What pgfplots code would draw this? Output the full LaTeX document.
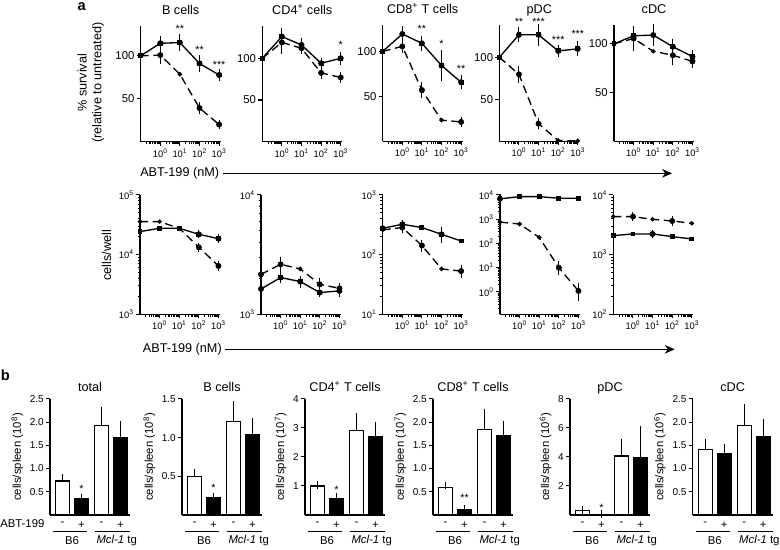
\documentclass[border=0pt]{standalone}
\usepackage{fontspec}
\setmainfont{Liberation Sans}
\usepackage{pgfplots}
\pgfplotsset{compat=1.18}
\usetikzlibrary{arrows.meta}

\newcommand\fsz[1]{\fontsize{#1}{#1}\selectfont}
\newcommand\sx[1]{10\textsuperscript{#1}}
\tikzset{st/.style={font=\fsz{8}, inner sep=0pt}}

\pgfplotsset{
  /pgf/number format/assume math mode=true,
  every axis title/.style={at={(0.5,1)}, anchor=base, font=\fsz{9.5}},
  rkbase/.style={scale only axis, anchor=south west, clip=false,
    axis lines=left, axis line style={line width=1pt,-},
    tick align=outside, tick style={black,line width=0.8pt},
    major tick length=3pt, minor tick length=1.7pt,
    yticklabel style={font=\fsz{8.5}, inner sep=1.5pt},
    xticklabel style={font=\fsz{7}, inner sep=2pt}},
  rklogx/.style={xmin=0.1, xmax=1200, xtick={1,10,100,1000},
    xticklabels={\sx{0},\sx{1},\sx{2},\sx{3}},
    minor xtick={0.2,0.3,0.4,0.5,0.6,0.7,0.8,0.9,2,3,4,5,6,7,8,9,20,30,40,50,60,70,80,90,200,300,400,500,600,700,800,900}},
  rksurv/.style={rklogx, rkbase, width=60pt, height=87pt, ymin=0, ytick={50,100}, title style={yshift=8.6pt}},
  rkcw/.style={rklogx, rkbase, width=60pt, height=89.5pt, yticklabel style={font=\fsz{7}}},
  rkbars/.style={rkbase, width=60pt, height=87pt, xmin=0.34, xmax=4.55, ymin=0,
    xtick={1,2,3.05,4.05}, xticklabels={-,+,-,+}, xticklabel style={font=\fsz{8.5}},
    xtick style={draw=none}, ylabel style={font=\fsz{8.5}}, title style={yshift=5.5pt},
    yticklabel style={font=\fsz{7.5}}},
  rkdec/.style={yticklabel style={/pgf/number format/fixed, /pgf/number format/fixed zerofill, /pgf/number format/precision=1}},
  rksol/.style={black, line width=1pt, mark=square*, mark size=1.3pt},
  rkdsh/.style={black, line width=1pt, dash pattern=on 6pt off 3.5pt, mark=*, mark size=1.15pt, mark options={solid}},
  rkeb/.style={only marks, mark=none, forget plot,
    error bars/y dir=both, error bars/y explicit,
    error bars/error bar style={black,solid,line width=0.8pt},
    error bars/error mark options={black,solid,line width=0.8pt,mark size=2.4pt}},
  rkbar/.style={ybar, bar width=0.74, bar shift=0pt, draw=black, line width=0.9pt,
    error bars/y dir=plus, error bars/y explicit,
    error bars/error bar style={black,line width=0.9pt},
    error bars/error mark options={black,line width=0.9pt,mark size=2.8pt}},
}

\newcommand\grp{%
  \draw[line width=0.9pt] ([yshift=-12.5pt]axis cs:0.5,0) -- ([yshift=-12.5pt]axis cs:2.3,0);
  \draw[line width=0.9pt] ([yshift=-12.5pt]axis cs:2.7,0) -- ([yshift=-12.5pt]axis cs:4.55,0);
  \node[font=\fsz{8.5}] at ([yshift=-19pt]axis cs:1.5,0) {B6};
  \node[font=\fsz{8.5}] at ([yshift=-19pt]axis cs:3.85,0) {\textit{Mcl-1} tg};}

\begin{document}
\begin{tikzpicture}
\path[use as bounding box] (0,0) rectangle (585pt,-411.75pt);

% ---------- panel a, top row: % survival ----------
\node[anchor=north west, inner sep=0pt, font=\bfseries\fsz{11}] at (58pt,-1.8pt) {a};
\node[rotate=90, align=center, font=\fontsize{9.5}{11}\selectfont] at (68pt,-62pt) {\% survival\\(relative to untreated)};

\begin{axis}[xmode=log, rksurv, at={(105.5pt,-106.3pt)}, ymax=135, title={B cells}]
\addplot[rksol] coordinates {(0.1,100) (1,114.6) (10,115.4) (100,91) (1000,77.7)};
\addplot[rkeb] coordinates {(1,114.6) +- (0,5) (10,115.4) +- (0,6) (100,91) +- (0,6) (1000,77.7) +- (0,3)};
\addplot[rkdsh] coordinates {(0.1,100) (1,100.8) (10,78.5) (100,39.2) (1000,20)};
\addplot[rkeb] coordinates {(1,100.8) +- (0,7) (100,39.2) +- (0,3) (1000,20) +- (0,1)};
\node[st] at (axis cs:10,131) {**};
\node[st] at (axis cs:100,107) {**};
\node[st] at (axis cs:1000,90) {***};
\end{axis}

\begin{axis}[xmode=log, rksurv, at={(196.7pt,-106.3pt)}, ymax=139, title={CD4\textsuperscript{+} cells}]
\addplot[rksol] coordinates {(0.1,100) (1,126) (10,116) (100,94) (1000,100)};
\addplot[rkeb] coordinates {(1,126) +- (0,6) (10,116) +- (0,5) (100,94) +- (0,2) (1000,100) +- (0,4)};
\addplot[rkdsh] coordinates {(0.1,100) (1,119) (10,112) (100,82.5) (1000,77)};
\addplot[rkeb] coordinates {(1,119) +- (0,10) (10,112) +- (0,3) (100,82.5) +- (0,4) (1000,77) +- (0,3)};
\node[st] at (axis cs:1000,116) {*};
\end{axis}

\begin{axis}[xmode=log, rksurv, at={(287pt,-106pt)}, ymax=129, title={CD8\textsuperscript{+} T cells}]
\addplot[rksol] coordinates {(0.1,100) (1,119.4) (10,109) (100,84.3) (1000,65.7)};
\addplot[rkeb] coordinates {(1,119.4) +- (0,5) (10,109) +- (0,5) (100,84.3) +- (0,14) (1000,65.7) +- (0,4)};
\addplot[rkdsh] coordinates {(0.1,100) (1,105.6) (10,57) (100,23.5) (1000,21.6)};
\addplot[rkeb] coordinates {(1,105.6) +- (0,4) (10,57) +- (0,5) (1000,21.6) +- (0,2)};
\node[st] at (axis cs:10,125) {**};
\node[st] at (axis cs:100,108) {*};
\node[st] at (axis cs:1000,81) {**};
\end{axis}

\begin{axis}[xmode=log, rksurv, at={(374.5pt,-106pt)}, ymax=138, title={pDC}]
\addplot[rksol] coordinates {(0.1,100) (1,126.7) (10,126.7) (100,107.6) (1000,110)};
\addplot[rkeb] coordinates {(1,126.7) +- (0,5) (10,126.7) +- (0,9) (100,107.6) +- (0,3) (1000,110) +- (0,5)};
\addplot[rkdsh] coordinates {(0.1,100) (1,79.7) (10,21) (100,1) (1000,0.5)};
\addplot[rkeb] coordinates {(1,79.7) +- (0,6) (10,21) +- (0,3)};
\node[st] at (axis cs:1,142) {**};
\node[st] at (axis cs:10,142) {***};
\node[st] at (axis cs:100,121) {***};
\node[st] at (axis cs:1000,128) {***};
\end{axis}

\begin{axis}[xmode=log, rksurv, at={(460.5pt,-106pt)}, ymax=119, title={cDC}]
\addplot[rksol] coordinates {(0.1,100) (1,108.3) (10,109) (100,97) (1000,87)};
\addplot[rkeb] coordinates {(1,108.3) +- (0,4) (10,109) +- (0,8) (100,97) +- (0,5) (1000,87) +- (0,3)};
\addplot[rkdsh] coordinates {(0.1,100) (1,105.5) (10,92.4) (100,88.3) (1000,82)};
\addplot[rkeb] coordinates {(1,105.5) +- (0,10) (100,88.3) +- (0,7) (1000,82) +- (0,4)};
\end{axis}

\node[anchor=west, inner sep=0pt, font=\fsz{9.5}] at (105pt,-130pt) {ABT-199 (nM)};
\draw[line width=1pt, -{Stealth[length=7.5pt, width=6.5pt]}] (167pt,-130pt) -- (504pt,-130pt);

% ---------- panel a, bottom row: cells/well ----------
\node[rotate=90, font=\fsz{9.5}] at (80pt,-191.5pt) {cells/well};

\begin{axis}[xmode=log, ymode=log, rkcw, at={(105pt,-235.7pt)}, ymin=1000, ymax=100000,
  ytick={1000,10000,100000}, yticklabels={\sx{3},\sx{4},\sx{5}},
  minor ytick={2000,3000,4000,5000,6000,7000,8000,9000,20000,30000,40000,50000,60000,70000,80000,90000}]
\addplot[rksol] coordinates {(0.1,24300) (1,27600) (10,27600) (100,21900) (1000,18500)};
\addplot[rkeb] coordinates {(100,21900) +- (0,600) (1000,18500) +- (0,900)};
\addplot[rkdsh] coordinates {(0.1,35700) (1,35700) (10,27600) (100,13300) (1000,6460)};
\addplot[rkeb] coordinates {(100,13300) +- (0,700) (1000,6460) +- (0,400)};
\end{axis}

\begin{axis}[xmode=log, ymode=log, rkcw, at={(195.75pt,-235.7pt)}, ymin=1000, ymax=10000,
  ytick={1000,10000}, yticklabels={\sx{3},\sx{4}},
  minor ytick={2000,3000,4000,5000,6000,7000,8000,9000}]
\addplot[rksol] coordinates {(0.1,1630) (1,2030) (10,1880) (100,1520) (1000,1570)};
\addplot[rkeb] coordinates {(0.1,1630) +- (0,100) (1,2030) +- (0,100) (10,1880) +- (0,100) (100,1520) +- (0,40) (1000,1570) +- (0,80)};
\addplot[rkdsh] coordinates {(0.1,2160) (1,2620) (10,2400) (100,1780) (1000,1650)};
\addplot[rkeb] coordinates {(0.1,2160) +- (0,150) (1,2620) +- (0,200) (100,1780) +- (0,120) (1000,1650) +- (0,70)};
\end{axis}

\begin{axis}[xmode=log, ymode=log, rkcw, at={(287pt,-235.7pt)}, ymin=10, ymax=1000,
  ytick={10,100,1000}, yticklabels={\sx{1},\sx{2},\sx{3}},
  minor ytick={20,30,40,50,60,70,80,90,200,300,400,500,600,700,800,900}]
\addplot[rksol] coordinates {(0.1,276) (1,322) (10,284) (100,219) (1000,169)};
\addplot[rkeb] coordinates {(0.1,276) +- (0,25) (1,322) +- (0,20) (100,219) +- (0,40)};
\addplot[rkdsh] coordinates {(0.1,259) (1,284) (10,142) (100,57.5) (1000,53)};
\addplot[rkeb] coordinates {(1,284) +- (0,25) (10,142) +- (0,15) (1000,53) +- (0,7)};
\end{axis}

\begin{axis}[xmode=log, ymode=log, rkcw, at={(375pt,-235.7pt)}, ymin=0.12, ymax=10000,
  ytick={1,10,100,1000,10000}, yticklabels={\sx{0},\sx{1},\sx{2},\sx{3},\sx{4}},
  minor ytick={0.2,0.3,0.4,0.5,0.6,0.7,0.8,0.9,2,3,4,5,6,7,8,9,20,30,40,50,60,70,80,90,200,300,400,500,600,700,800,900,2000,3000,4000,5000,6000,7000,8000,9000}]
\addplot[rksol] coordinates {(0.1,6900) (1,8500) (10,8500) (100,7300) (1000,7300)};
\addplot[rkeb] coordinates {(0.1,6900) +- (0,1000)};
\addplot[rkdsh] coordinates {(0.1,760) (1,630) (10,178) (100,10) (1000,1.1)};
\addplot[rkeb] coordinates {(100,10) +- (0,3.5) (1000,1.1) +- (0,0.55)};
\end{axis}

\begin{axis}[xmode=log, ymode=log, rkcw, at={(460pt,-235.7pt)}, ymin=100, ymax=10000,
  ytick={100,1000,10000}, yticklabels={\sx{2},\sx{3},\sx{4}},
  minor ytick={200,300,400,500,600,700,800,900,2000,3000,4000,5000,6000,7000,8000,9000}]
\addplot[rksol] coordinates {(0.1,2080) (1,2220) (10,2220) (100,2000) (1000,1830)};
\addplot[rkeb] coordinates {(10,2220) +- (0,100)};
\addplot[rkdsh] coordinates {(0.1,4330) (1,4330) (10,3900) (100,3660) (1000,3350)};
\addplot[rkeb] coordinates {(1,4330) +- (0,200) (100,3660) +- (0,250)};
\end{axis}

\node[anchor=west, inner sep=0pt, font=\fsz{9.5}] at (107pt,-262pt) {ABT-199 (nM)};
\draw[line width=1pt, -{Stealth[length=7.5pt, width=6.5pt]}] (169pt,-262pt) -- (506pt,-262pt);

% ---------- panel b: cells/spleen ----------
\node[anchor=north west, inner sep=0pt, font=\bfseries\fsz{11}] at (0.5pt,-277pt) {b};
\node[anchor=west, inner sep=0pt, font=\fsz{8.5}] at (0pt,-392.5pt) {ABT-199};

\begin{axis}[rkbars, rkdec, at={(37.5pt,-386.2pt)}, ymax=2.5, ytick={0.5,1,1.5,2,2.5},
  title={total}, ylabel={cells/spleen (10\textsuperscript{8})}]
\addplot[fill=white, rkbar] coordinates {(1,0.73) +- (0,0.07) (3.05,1.92) +- (0,0.32)};
\addplot[fill=black, rkbar] coordinates {(2,0.36) +- (0,0.02) (4.05,1.66) +- (0,0.28)};
\node[st] at (axis cs:2,0.56) {*};
\grp
\end{axis}

\begin{axis}[rkbars, rkdec, at={(136.5pt,-386.2pt)}, ymax=1.5, ytick={0.5,1,1.5},
  title={B cells}, ylabel={cells/spleen (10\textsuperscript{8})}]
\addplot[fill=white, rkbar] coordinates {(1,0.50) +- (0,0.05) (3.05,1.21) +- (0,0.21)};
\addplot[fill=black, rkbar] coordinates {(2,0.23) +- (0,0.01) (4.05,1.04) +- (0,0.17)};
\node[st] at (axis cs:2,0.35) {*};
\grp
\end{axis}

\begin{axis}[rkbars, at={(228.75pt,-386.2pt)}, ymax=4, ytick={1,2,3,4},
  title={CD4\textsuperscript{+} T cells}, ylabel={cells/spleen (10\textsuperscript{7})}]
\addplot[fill=white, rkbar] coordinates {(1,1.0) +- (0,0.04) (3.05,2.9) +- (0,0.47)};
\addplot[fill=black, rkbar] coordinates {(2,0.58) +- (0,0.06) (4.05,2.7) +- (0,0.37)};
\node[st] at (axis cs:2,0.85) {*};
\grp
\end{axis}

\begin{axis}[rkbars, rkdec, at={(324.75pt,-386.2pt)}, ymax=2.5, ytick={0.5,1,1.5,2,2.5},
  title={CD8\textsuperscript{+} T cells}, ylabel={cells/spleen (10\textsuperscript{7})}]
\addplot[fill=white, rkbar] coordinates {(1,0.59) +- (0,0.05) (3.05,1.84) +- (0,0.37)};
\addplot[fill=black, rkbar] coordinates {(2,0.11) +- (0,0.02) (4.05,1.71) +- (0,0.24)};
\node[st] at (axis cs:2,0.36) {**};
\grp
\end{axis}

\begin{axis}[rkbars, at={(427.5pt,-386.2pt)}, ymax=8, ytick={2,4,6,8},
  title={pDC}, ylabel={cells/spleen (10\textsuperscript{6})}]
\addplot[fill=white, rkbar] coordinates {(1,0.30) +- (0,0.05) (3.05,4.06) +- (0,0.9)};
\addplot[fill=black, rkbar] coordinates {(2,0.05) +- (0,0.02) (4.05,3.96) +- (0,1.9)};
\node[st] at (axis cs:2,0.5) {*};
\grp
\end{axis}

\begin{axis}[rkbars, rkdec, at={(519.5pt,-386.2pt)}, ymax=2.5, ytick={0.5,1,1.5,2,2.5},
  title={cDC}, ylabel={cells/spleen (10\textsuperscript{6})}]
\addplot[fill=white, rkbar] coordinates {(1,1.41) +- (0,0.14) (3.05,1.93) +- (0,0.37)};
\addplot[fill=black, rkbar] coordinates {(2,1.32) +- (0,0.12) (4.05,1.68) +- (0,0.31)};
\grp
\end{axis}
\end{tikzpicture}
\end{document}
